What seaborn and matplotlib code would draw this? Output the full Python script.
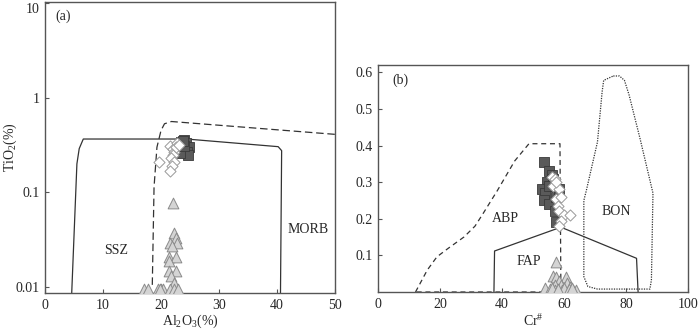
import matplotlib
matplotlib.use("Agg")
import matplotlib.pyplot as plt
import seaborn as sns
import numpy as np
import pandas as pd

# ---- (a) Al2O3 vs TiO2 ----
a_sq_x = [24.0, 24.3, 24.8, 24.5, 24.6, 23.5, 22.9, 23.2, 24.0, 23.8]
a_sq_y = [0.36, 0.33, 0.30, 0.27, 0.25, 0.34, 0.29, 0.26, 0.31, 0.35]
a_di_x = [21.5, 22.0, 22.8, 22.3, 22.0, 21.8, 22.2, 21.9, 21.6, 22.5, 19.6, 23.1]
a_di_y = [0.31, 0.29, 0.33, 0.27, 0.25, 0.23, 0.21, 0.19, 0.17, 0.30, 0.21, 0.32]
a_tr_x = [22.0, 22.3, 22.5, 21.5, 22.8, 21.9, 21.3, 22.6, 21.4, 21.3, 22.5, 21.8,
          22.2, 17.0, 17.8, 19.5, 20.0, 20.4, 21.5, 22.3, 23.0, 19.8]
a_tr_y = [0.078, 0.037, 0.033, 0.029, 0.029, 0.027, 0.021, 0.021, 0.019, 0.015, 0.015, 0.013,
          0.011, 0.0097, 0.0097, 0.0097, 0.0097, 0.0097, 0.0097, 0.0097, 0.0097, 0.0095]

# field boundaries (a)
a_solid_x = [4.6, 5.5, 5.9, 6.6, 24.4, 40.2, 40.8, 40.6]
a_solid_y = [0.0085, 0.2, 0.29, 0.366, 0.366, 0.304, 0.276, 0.0085]
a_dash_x = [18.5, 18.8, 19.3, 20.0, 20.6, 21.8, 50.0]
a_dash_y = [0.0106, 0.114, 0.3, 0.45, 0.53, 0.56, 0.41]

# ---- (b) Cr# vs TiO2 ----
b_sq_x = [53.5, 55.0, 56.0, 54.5, 53.0, 54.0, 53.5, 55.0, 57.0, 57.5, 56.0, 57.5, 58.5, 56.5, 55.0]
b_sq_y = [0.355, 0.33, 0.32, 0.30, 0.28, 0.27, 0.25, 0.24, 0.22, 0.19, 0.29, 0.26, 0.28, 0.31, 0.29]
b_di_x = [56.0, 57.0, 56.5, 58.5, 57.5, 58.0, 58.5, 60.0, 62.0, 59.0, 58.5, 57.5, 59.0]
b_di_y = [0.315, 0.31, 0.29, 0.28, 0.255, 0.235, 0.22, 0.21, 0.21, 0.195, 0.18, 0.30, 0.26]
b_tr_x = [57.5, 56.5, 57.5, 60.5, 58.5, 61.0, 59.0, 57.0, 62.0, 54.0, 55.5, 57.0,
          59.5, 60.0, 61.5, 63.0, 64.0, 56.0, 58.0, 62.5]
b_tr_y = [0.083, 0.045, 0.040, 0.040, 0.030, 0.025, 0.020, 0.020, 0.015, 0.012, 0.008, 0.005,
          0.005, 0.010, 0.008, 0.006, 0.005, 0.012, 0.008, 0.012]

# field boundaries (b)
abp_x = [12.1, 15.9, 19.0, 22.6, 27.7, 31.3, 33.8, 38.5, 44.1, 48.7, 58.7, 59.0, 12.1]
abp_y = [0.0, 0.06, 0.096, 0.119, 0.15, 0.18, 0.213, 0.277, 0.358, 0.405, 0.405, 0.0, 0.0]
fap_x = [37.4, 37.6, 59.0, 83.4, 83.9]
fap_y = [0.0, 0.112, 0.177, 0.092, 0.0]
bon_x = [75.9, 77.9, 79.5, 81.0, 84.5, 88.7, 88.2, 87.7, 70.8, 67.7, 66.4, 66.4,
         67.2, 70.8, 72.3, 72.8, 75.9]
bon_y = [0.59, 0.59, 0.578, 0.538, 0.42, 0.27, 0.033, 0.008, 0.008, 0.015, 0.042, 0.25,
         0.277, 0.41, 0.547, 0.578, 0.59]

sns.set_theme(style="ticks")
plt.rcParams["font.family"] = ["Liberation Serif", "DejaVu Serif"]
plt.rcParams["mathtext.fontset"] = "custom"
plt.rcParams["mathtext.rm"] = "Liberation Serif"
plt.rcParams["mathtext.it"] = "Liberation Serif:italic"
plt.rcParams["axes.edgecolor"] = "#555555"
plt.rcParams["axes.linewidth"] = 1.0

fs = 10
fig = plt.figure(figsize=(7.0, 3.29), dpi=100)
ax1 = fig.add_axes([45 / 700, 1 - 293 / 329, 290 / 700, 291 / 329])
ax2 = fig.add_axes([378 / 700, 1 - 292 / 329, 310 / 700, 227 / 329])

sq_kw = dict(marker="s", s=48, color="#5a5a5a", edgecolor="#3a3a3a", linewidth=0.6, zorder=3)
di_kw = dict(marker="D", s=32, color="white", edgecolor="#9a9a9a", linewidth=0.7, zorder=4)
tr_kw = dict(marker="^", s=60, color="#d4d4d4", edgecolor="#8a8a8a", linewidth=0.7, zorder=3)

# panel (a)
ax1.plot(a_solid_x, a_solid_y, color="#333333", lw=0.9)
ax1.plot(a_dash_x, a_dash_y, color="#333333", lw=0.9, ls=(0, (6, 3)))
sns.scatterplot(x=a_tr_x, y=a_tr_y, ax=ax1, **tr_kw)
sns.scatterplot(x=a_sq_x, y=a_sq_y, ax=ax1, **sq_kw)
sns.scatterplot(x=a_di_x, y=a_di_y, ax=ax1, **di_kw)
ax1.set_yscale("log")
ax1.set_xlim(0, 50)
ax1.set_ylim(0.0087, 10.2)
ax1.set_yticks([0.01, 0.1, 1, 10])
ax1.set_yticklabels(["0.01", "0.1", "1", "10"])
ax1.minorticks_off()
ax1.set_xticks([0, 10, 20, 30, 40, 50])
ax1.set_xlabel(r"Al$\mathregular{_2}$O$\mathregular{_3}$(%)", fontsize=fs, labelpad=1)
ax1.set_ylabel(r"TiO$\mathregular{_2}$(%)", fontsize=fs)
ax1.yaxis.set_label_coords(-0.09, 0.5)
ax1.text(1.8, 7.3, "(a)", fontsize=fs, va="center")
ax1.text(12.3, 0.0246, "SSZ", fontsize=fs, ha="center", va="center")
ax1.text(45.4, 0.0406, "MORB", fontsize=fs, ha="center", va="center")

# panel (b)
ax2.plot(abp_x, abp_y, color="#333333", lw=0.9, ls=(0, (4, 3)))
ax2.plot(fap_x, fap_y, color="#333333", lw=0.9)
ax2.plot(bon_x, bon_y, color="#333333", lw=0.9, ls=(0, (1, 1)))
sns.scatterplot(x=b_tr_x, y=b_tr_y, ax=ax2, **tr_kw)
sns.scatterplot(x=b_sq_x, y=b_sq_y, ax=ax2, **sq_kw)
sns.scatterplot(x=b_di_x, y=b_di_y, ax=ax2, **di_kw)
ax2.set_xlim(0, 100)
ax2.set_ylim(0, 0.62)
ax2.set_xticks([0, 20, 40, 60, 80, 100])
ax2.set_yticks([0.1, 0.2, 0.3, 0.4, 0.5, 0.6])
ax2.set_xlabel(r"Cr$^{\#}$", fontsize=fs, labelpad=2)
ax2.text(4.6, 0.578, "(b)", fontsize=fs, va="center")
ax2.text(41.0, 0.2, "ABP", fontsize=fs, ha="center", va="center")
ax2.text(48.7, 0.083, "FAP", fontsize=fs, ha="center", va="center")
ax2.text(76.9, 0.22, "BON", fontsize=fs, ha="center", va="center")

for ax in (ax1, ax2):
    for sp in ax.spines.values():
        sp.set_visible(True)
        sp.set_color("#555555")
    ax.tick_params(direction="in", length=3, width=0.8, color="#555555",
                   labelsize=fs, pad=4, top=False, right=False)
    ax.set_facecolor("white")

# top "10" label sits just under the frame edge as in the original
ax1.get_yticklabels()[-1].set_va("top")

fig.savefig("out.png", dpi=100)
